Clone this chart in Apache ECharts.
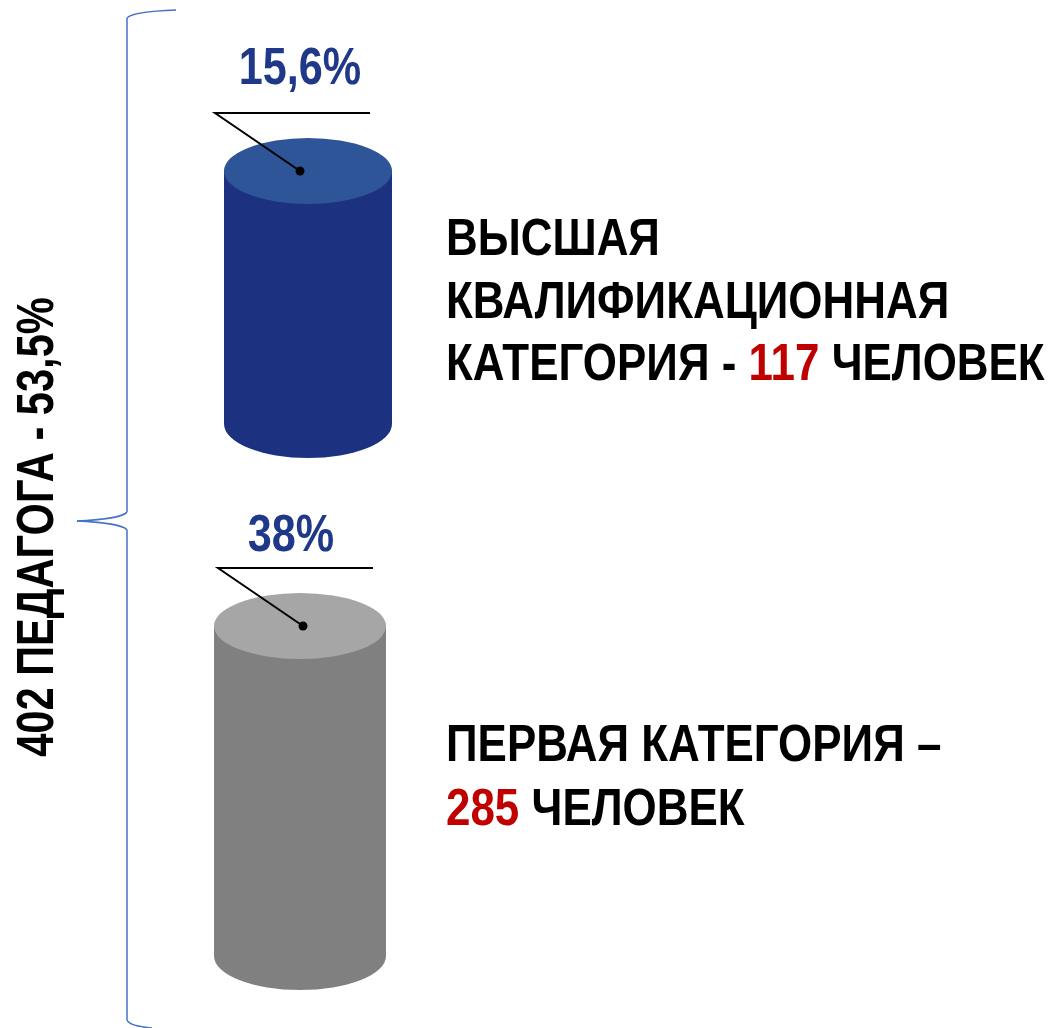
<!DOCTYPE html>
<html>
<head>
<meta charset="utf-8">
<script src="https://cdn.jsdelivr.net/npm/echarts@6/dist/echarts.min.js"></script>
<style>
  html, body { margin: 0; padding: 0; background: #ffffff; }
  #chart { width: 1054px; height: 1028px; }
</style>
</head>
<body>
<div id="chart"></div>
<script>
// Teaching staff by qualification category (share of all teachers, %)
const categories = ['Высшая квалификационная категория', 'Первая категория'];
const shares = [15.6, 38];
const headcounts = [117, 285];
const totalLabel = '402 ПЕДАГОГА - 53,5%';

const FONT = '"Liberation Sans Narrow", "Arial Narrow", "Liberation Sans", Arial, sans-serif';
const FONT_SIZE = 52;
const NARROW = 0.83;           // horizontal squeeze to get a condensed face
const sideColors = ['#1c3281', '#808080'];
const topColors = ['#2e5597', '#a6a6a6'];
const labelColor = '#1f3888';
const braceColor = '#4472c4';

// callout placement relative to the dot on each cylinder's lid
const dotShift = [-8, 3];
const labelShift = [[0, -101], [-12, -89]];

const chart = echarts.init(document.getElementById('chart'), null, { renderer: 'canvas' });

function fmtPct(v) {
  return String(v).replace('.', ',') + '%';
}

// ellipse drawn as a vertically squashed circle
function ellipse(cx, cy, rx, ry, fill) {
  return { type: 'circle', x: cx, y: cy, scaleY: ry / rx, shape: { cx: 0, cy: 0, r: rx }, style: { fill: fill } };
}

// One cylinder per grid: body height is the value mapped through that grid's y scale
function cylinder(idx) {
  return function (params, api) {
    const v = api.value(1);
    const base = api.coord([api.value(0), 0]);
    const top = api.coord([api.value(0), v]);
    const w = api.size([1, 0])[0];
    const cx = base[0];
    const rx = w / 2;
    const ry = 33;
    const dotX = cx + dotShift[idx];
    const dotY = top[1];
    return {
      type: 'group',
      children: [
        ellipse(cx, base[1], rx, ry + 1, sideColors[idx]),
        { type: 'rect', shape: { x: cx - rx, y: top[1], width: w, height: base[1] - top[1] }, style: { fill: sideColors[idx] } },
        ellipse(cx, top[1], rx, ry, topColors[idx]),
        { type: 'polyline', shape: { points: [[dotX, dotY], [dotX - 85, dotY - 58], [dotX + 70, dotY - 58]] },
          style: { stroke: '#000', lineWidth: 2, fill: null } },
        { type: 'circle', shape: { cx: dotX, cy: dotY, r: 4.5 }, style: { fill: '#000' } },
        { type: 'text', x: dotX + labelShift[idx][0], y: dotY + labelShift[idx][1], scaleX: NARROW,
          style: { text: fmtPct(v), fill: labelColor, font: 'bold ' + FONT_SIZE + 'px ' + FONT, align: 'center', verticalAlign: 'middle' } }
      ]
    };
  };
}

function curve(x1, y1, c1x, c1y, c2x, c2y, x2, y2) {
  return { type: 'bezierCurve', z: 10,
    shape: { x1: x1, y1: y1, cpx1: c1x, cpy1: c1y, cpx2: c2x, cpy2: c2y, x2: x2, y2: y2 },
    style: { stroke: braceColor, lineWidth: 1.5, fill: null } };
}
function straight(x1, y1, x2, y2) {
  return { type: 'line', z: 10, shape: { x1: x1, y1: y1, x2: x2, y2: y2 },
    style: { stroke: braceColor, lineWidth: 1.5 } };
}

const fontStr = 'bold ' + FONT_SIZE + 'px ' + FONT;
const rich = { r: { fill: '#c00000', font: fontStr } };
function caption(y, text) {
  return { type: 'text', x: 446, y: y, z: 10, scaleX: 0.845,
    style: { text: text, fill: '#000', font: fontStr, verticalAlign: 'middle', rich: rich } };
}

chart.setOption({
  animation: false,
  grid: [
    { left: 224, width: 168, top: 171, height: 253 },
    { left: 214, width: 172, top: 626, height: 330 }
  ],
  xAxis: [
    { gridIndex: 0, type: 'category', data: [categories[0]], show: false },
    { gridIndex: 1, type: 'category', data: [categories[1]], show: false }
  ],
  yAxis: [
    { gridIndex: 0, type: 'value', min: 0, max: shares[0], show: false },
    { gridIndex: 1, type: 'value', min: 0, max: shares[1], show: false }
  ],
  series: [
    { type: 'custom', xAxisIndex: 0, yAxisIndex: 0, renderItem: cylinder(0), data: [[0, shares[0]]], clip: false },
    { type: 'custom', xAxisIndex: 1, yAxisIndex: 1, renderItem: cylinder(1), data: [[0, shares[1]]], clip: false }
  ],
  graphic: [
    // curly brace grouping both categories
    curve(176, 10, 150, 11, 131, 13, 127, 18),
    straight(127, 18, 127, 512),
    curve(127, 512, 124, 517, 100, 520, 77, 521),
    curve(77, 521, 100, 522, 124, 525, 127, 530),
    straight(127, 530, 127, 1020),
    curve(127, 1020, 129, 1025, 140, 1027, 152, 1028),
    { type: 'text', x: 39, y: 527, rotation: Math.PI / 2, scaleX: 0.80, z: 10,
      style: { text: totalLabel, fill: '#000', font: fontStr, align: 'center', verticalAlign: 'middle' } },
    caption(241, 'ВЫСШАЯ'),
    caption(304, 'КВАЛИФИКАЦИОННАЯ'),
    caption(366, 'КАТЕГОРИЯ - {r|' + headcounts[0] + '} ЧЕЛОВЕК'),
    caption(747, 'ПЕРВАЯ КАТЕГОРИЯ –'),
    caption(811, '{r|' + headcounts[1] + '} ЧЕЛОВЕК')
  ]
});
</script>
</body>
</html>
